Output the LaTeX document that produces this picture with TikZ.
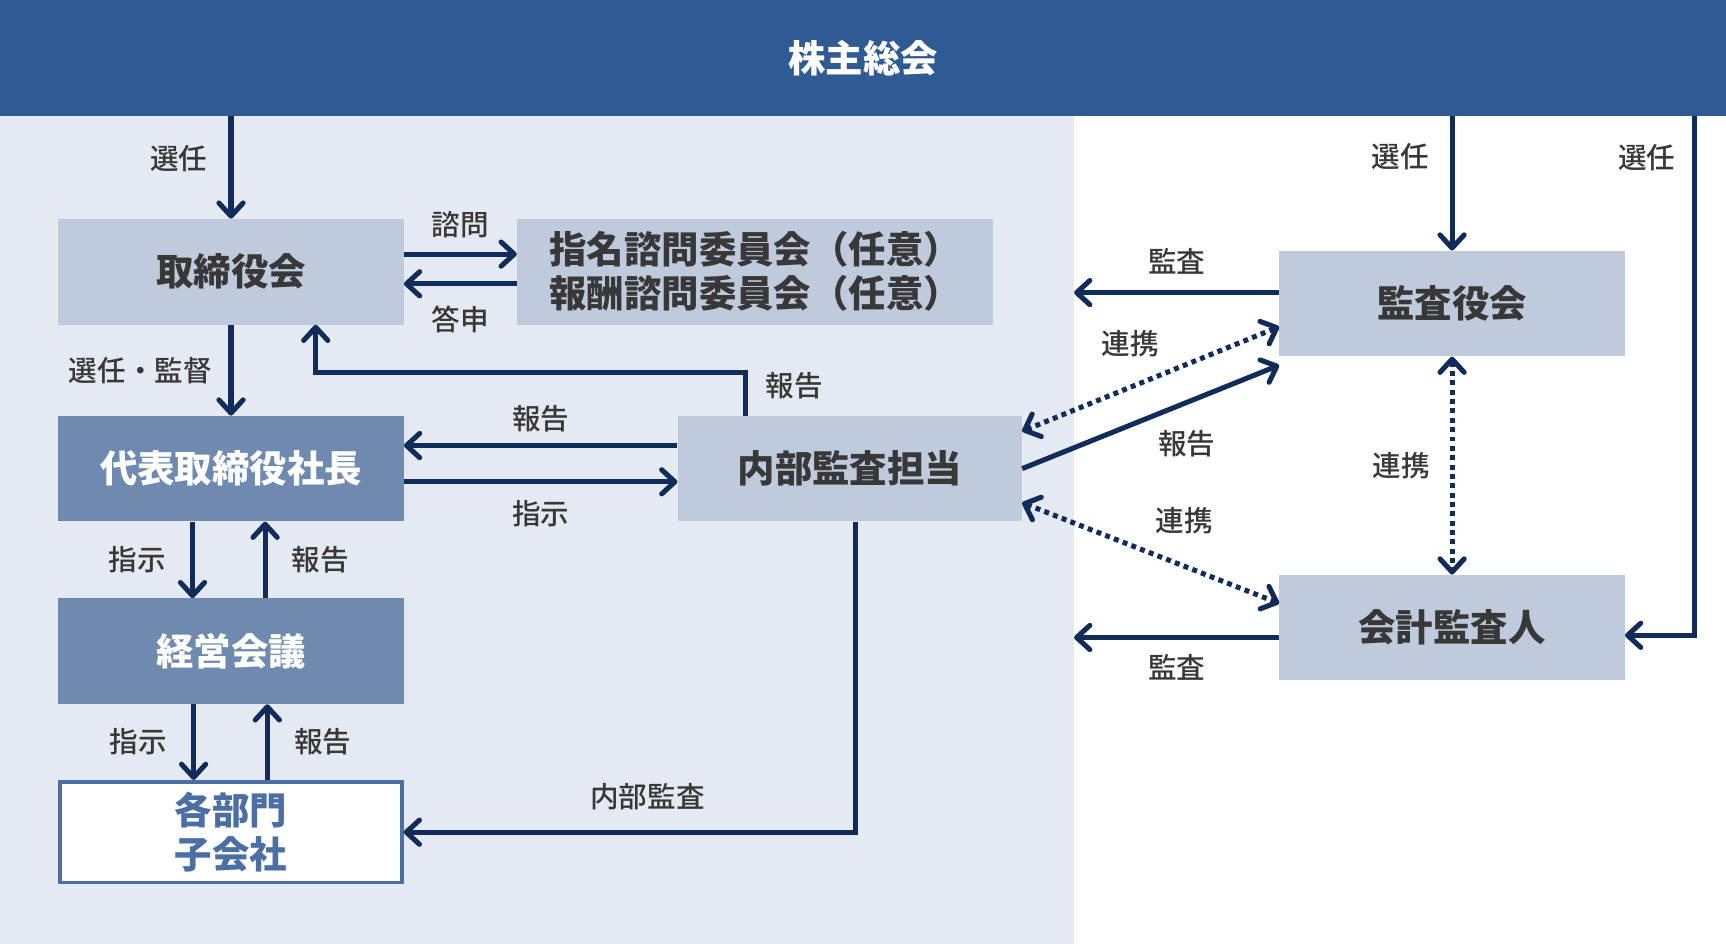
\documentclass[tikz,border=0pt]{standalone}
\usepackage{fontspec}
\setmainfont{Noto Sans CJK JP}
\newfontfamily\chuu{Noto Sans CJK JP Medium}
\usepackage{xcolor}
\usepackage{tikz}
\usetikzlibrary{arrows.meta}
\definecolor{aoi}{RGB}{47,90,147}
\definecolor{haikei}{RGB}{229,234,242}
\definecolor{usui}{RGB}{191,202,220}
\definecolor{naka}{RGB}{111,138,176}
\definecolor{yajirushi}{RGB}{17,43,90}
\definecolor{moji}{RGB}{56,56,56}
\definecolor{waku}{RGB}{75,111,165}
\tikzstyle{hako} = [rectangle, fill=usui, text=moji, font=\bfseries\fontsize{34}{40}\selectfont, minimum width=314pt, minimum height=96pt, inner sep=0pt, align=center]
\tikzstyle{hakokoi} = [hako, fill=naka, text=white]
\tikzstyle{hakowaku} = [hako, fill=white, draw=waku, line width=3.5pt, text=waku, minimum width=310.5pt, minimum height=91.5pt]
\tikzstyle{line} = [draw=yajirushi, line width=4.6pt, ->]
\tikzstyle{renkei} = [line, <->, dash pattern=on 4.5pt off 4pt]
\tikzstyle{kotoba} = [text=moji, font=\chuu\fontsize{26}{26}\selectfont, inner sep=0pt]

\begin{document}
\begin{tikzpicture}[x=1pt, y=1pt, >={Straight Barb[length=12pt,width=22pt,round]}]
\useasboundingbox (0,0) rectangle (1569,-858);
\node [rectangle, fill=haikei, minimum width=976pt, minimum height=753pt, anchor=north west, inner sep=0pt] (panel) at (0,-105) {};
\node [hako, fill=aoi, text=white, minimum width=1569pt, minimum height=105pt] (sokai) at (784.5,-52.5) {株主総会};

\node [hako] (torishimari) at (210,-247) {取締役会};
\node [hako, right of=torishimari, node distance=476.5pt, minimum width=433pt] (iinkai) {指名諮問委員会（任意）\\報酬諮問委員会（任意）};
\node [hakokoi, below of=torishimari, node distance=179pt] (daihyo) {代表取締役社長};
\node [hakokoi, below of=daihyo, node distance=166pt] (keiei) {経営会議};
\node [hakowaku, below of=keiei, node distance=164.5pt] (bumon) {各部門\\子会社};
\node [hako, right of=daihyo, node distance=562.5pt, minimum width=313pt] (naibu) {内部監査担当};

\node [hako] (kansayaku) at (1320,-276) {監査役会};
\node [hako, below of=kansayaku, node distance=294.5pt] (kaikei) {会計監査人};

\path[line] (sokai.south -| torishimari.north) -- node[kotoba, left=19pt, pos=.42]{選任} (torishimari.north);
\path[line] ([yshift=16pt]torishimari.east) -- node[kotoba, above=12pt]{諮問} ([yshift=16pt]iinkai.west);
\path[line] ([yshift=-11pt]iinkai.west) -- node[kotoba, below=18pt]{答申} ([yshift=-11pt]torishimari.east);
\path[line] (torishimari.south) -- node[kotoba, left=15pt]{選任・監督} (daihyo.north);
\path[line] ([xshift=-95pt]naibu.north) -- node[kotoba, right=16pt, pos=.7]{報告} ++(0,39) -| ([xshift=77pt]torishimari.south);

\path[line] ([yshift=21pt]naibu.west) -- node[kotoba, above=10pt]{報告} ([yshift=21pt]daihyo.east);
\path[line] ([yshift=-12pt]daihyo.east) -- node[kotoba, below=15pt]{指示} ([yshift=-12pt]naibu.west);
\path[line] ([xshift=-35pt]daihyo.south) -- node[kotoba, left=22pt]{指示} ([xshift=-35pt]keiei.north);
\path[line] ([xshift=31pt]keiei.north) -- node[kotoba, right=22pt]{報告} ([xshift=31pt]daihyo.south);
\path[line] ([xshift=-34pt]keiei.south) -- node[kotoba, left=22pt]{指示} ([xshift=-34pt]bumon.north);
\path[line] ([xshift=33pt]bumon.north) -- node[kotoba, right=22pt]{報告} ([xshift=33pt]keiei.south);
\path[line] ([xshift=5pt]naibu.south) |- node[kotoba, above=18pt, pos=.73]{内部監査} (bumon.east);

\path[line] (sokai.south -| kansayaku.north) -- node[kotoba, left=19pt, pos=.3]{選任} (kansayaku.north);
\path[line] ([xshift=-29pt]sokai.south east) |- node[kotoba, left=15pt, pos=.04]{選任} ([yshift=-7pt]kaikei.east);
\path[line] ([yshift=10pt]kansayaku.west) -- node[kotoba, above=14pt]{監査} ([yshift=10pt]kansayaku.west -| panel.east);
\path[line] ([yshift=-9pt]kaikei.west) -- node[kotoba, below=13pt]{監査} ([yshift=-9pt]kaikei.west -| panel.east);

\path[renkei] ([yshift=34pt]naibu.east) -- node[kotoba, above=25pt, pos=.42]{連携} ([yshift=-21pt]kansayaku.west);
\path[line] (naibu.east) -- node[kotoba, below=23pt, pos=.64]{報告} ([yshift=-56pt]kansayaku.west);
\path[renkei] ([yshift=-31pt]naibu.east) -- node[kotoba, above=27pt, pos=.63]{連携} ([yshift=22pt]kaikei.west);
\path[renkei] (kansayaku.south) -- node[kotoba, left=18pt]{連携} (kaikei.north);
\end{tikzpicture}
\end{document}
